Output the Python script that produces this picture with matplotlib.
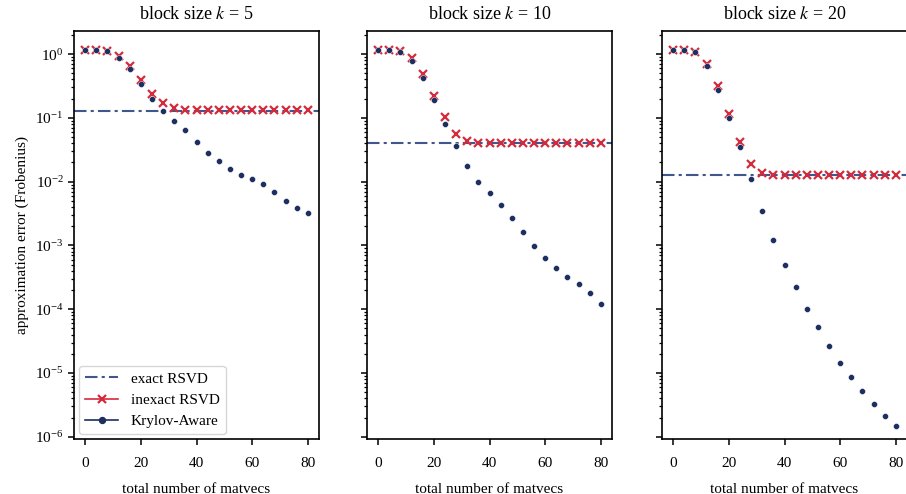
import numpy as np
import matplotlib
matplotlib.use("Agg")
import matplotlib.pyplot as plt
from matplotlib.lines import Line2D

plt.rcParams['font.family'] = ['Liberation Serif', 'DejaVu Serif']
plt.rcParams['mathtext.fontset'] = 'stix'

# total matvecs on the x axis
matvecs = np.arange(0, 81, 4)
block_sizes = [5, 10, 20]

# exact RSVD error per block size (flat reference line)
exact_k5 = 0.130
exact_k10 = 0.0397
exact_k20 = 0.0127

# inexact RSVD
inexact_k5 = [1.14, 1.14, 1.12, 0.92, 0.64, 0.397, 0.24, 0.171, 0.141, 0.1315,
              0.1315, 0.1315, 0.1315, 0.1315, 0.1315, 0.1315, 0.1315, 0.1315,
              0.1315, 0.1315, 0.1315]
inexact_k10 = [1.15, 1.15, 1.10, 0.855, 0.48, 0.223, 0.102, 0.056, 0.043, 0.040,
               0.040, 0.040, 0.040, 0.040, 0.040, 0.040, 0.040, 0.040, 0.040,
               0.040, 0.040]
inexact_k20 = [1.15, 1.15, 1.09, 0.705, 0.312, 0.117, 0.042, 0.0186, 0.0136,
               0.0129, 0.0129, 0.0129, 0.0129, 0.0129, 0.0129, 0.0129, 0.0129,
               0.0129, 0.0129, 0.0129, 0.0129]

# Krylov-aware
krylov_k5 = [1.14, 1.14, 1.11, 0.875, 0.58, 0.34, 0.198, 0.13, 0.0907, 0.064,
             0.0416, 0.028, 0.0207, 0.016, 0.0127, 0.0109, 0.0093, 0.00698,
             0.00498, 0.00387, 0.00323]
krylov_k10 = [1.14, 1.14, 1.09, 0.785, 0.416, 0.188, 0.0815, 0.0365, 0.0175,
              0.00975, 0.00656, 0.0043, 0.0027, 0.00163, 0.000986, 0.000627,
              0.000437, 0.000323, 0.000246, 0.000178, 0.000122]
krylov_k20 = [1.14, 1.14, 1.06, 0.656, 0.277, 0.101, 0.0344, 0.0111, 0.00352,
              0.00122, 0.000498, 0.000221, 0.000102, 5.24e-5, 2.67e-5, 1.43e-5,
              8.65e-6, 5.23e-6, 3.28e-6, 2.1e-6, 1.47e-6]

exact = [exact_k5, exact_k10, exact_k20]
inexact = [inexact_k5, inexact_k10, inexact_k20]
krylov = [krylov_k5, krylov_k10, krylov_k20]

navy = '#1c2f60'
slate = '#40578e'
red = '#d42a3c'

fig = plt.figure(figsize=(9.06, 4.94), dpi=100)
lefts = [0.0817, 0.4051, 0.7307]
axes = []
for i, l in enumerate(lefts):
    ax = fig.add_axes([l, 0.1113, 0.2704, 0.8259],
                      sharey=axes[0] if axes else None)
    axes.append(ax)

for i, ax in enumerate(axes):
    ax.axhline(exact[i], color=slate, ls=(0, (6, 2, 1.5, 2)), lw=1.5, zorder=1)
    ax.plot(matvecs, inexact[i], ls='', marker='x', ms=6, mew=1.6,
            color=red, zorder=2)
    ax.plot(matvecs, krylov[i], ls='', marker='o', ms=4.3, color=navy,
            mec='white', mew=0.3, zorder=3)
    ax.set_yscale('log')
    ax.set_xlim(-4, 84)
    ax.set_xticks([0, 20, 40, 60, 80])
    ax.set_title('block size $k$ = %d' % block_sizes[i], fontsize=13, pad=9)
    ax.set_xlabel('total number of matvecs', fontsize=11, labelpad=9)
    ax.tick_params(labelsize=11, width=1.1, length=4)
    ax.tick_params(axis='x', pad=9)
    ax.tick_params(which='minor', width=0.9, length=2.5)
    for s in ax.spines.values():
        s.set_linewidth(1.2)
    if i > 0:
        ax.tick_params(labelleft=False)

axes[0].set_ylim(9.2e-7, 2.3)
axes[0].set_ylabel('approximation error (Frobenius)', fontsize=11)

handles = [
    Line2D([], [], color=slate, ls=(0, (6, 2, 1.5, 2)), lw=1.5),
    Line2D([], [], color=red, marker='x', ms=6, mew=1.6, lw=1.2),
    Line2D([], [], color=navy, marker='o', ms=4.3, lw=1.2),
]
axes[0].legend(handles, ['exact RSVD', 'inexact RSVD', 'Krylov-Aware'],
               loc='lower left', fontsize=11, handlelength=2.2,
               borderaxespad=0.3)

fig.savefig('out.png', dpi=100)
